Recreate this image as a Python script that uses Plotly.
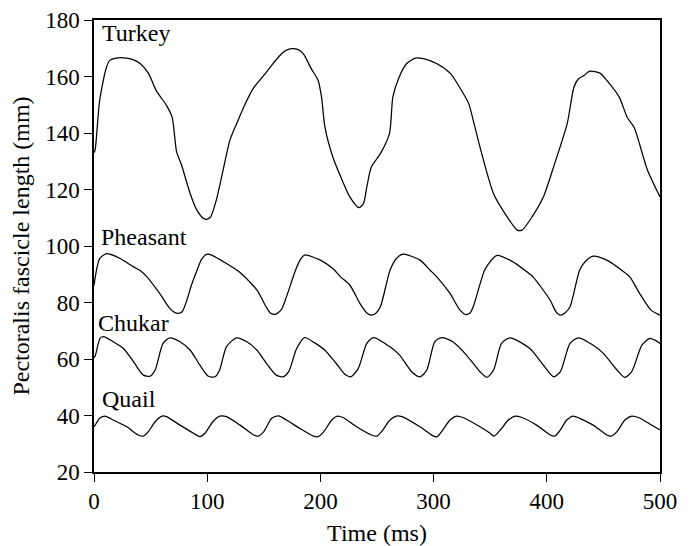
import plotly.graph_objects as go

# ---------------- data ----------------
turkey_t = [0, 1, 5, 11, 14, 21, 29, 35, 41, 48, 55, 64, 69, 73, 77, 85, 91, 97, 100, 103, 108, 114, 120, 126, 135,
            141, 150, 158, 167, 173, 180, 185, 192, 198, 201, 204, 211, 219, 226, 234, 238, 241, 245, 253, 261, 264,
            269, 276, 284, 291, 303, 315, 322, 331, 335, 341, 353, 365, 374, 378, 387, 397, 406, 418, 424, 428, 433,
            438, 447, 453, 464, 471, 477, 489, 500]
turkey_y = [133, 134, 151.5, 163.3, 165.7, 166.6, 166.5, 165.9, 164.5, 161.2, 155, 149.8, 145.6, 133.3, 129.1, 118.5,
            112.6, 109.7, 109.5, 110.3, 116.2, 126.8, 137.4, 143.3, 151.5, 156, 160.4, 164.5, 168.6, 169.8, 169.6, 168,
            162.7, 158.6, 152.7, 142.1, 131.5, 123.5, 117.4, 113.6, 115, 120.9, 128, 132.7, 139.8, 152.7, 159.2, 164.5,
            166.5, 166.3, 164.5, 161, 156.8, 150.4, 144.5, 135, 118.5, 110.3, 105.6, 105.6, 110.3, 117.4, 128, 143.3,
            156.3, 159.2, 160.4, 161.9, 161.2, 158.6, 152.7, 145.6, 142.1, 126.8, 117.4]

pheasant_t = [0, 5, 11, 14, 23, 35, 41, 47, 58, 67, 72, 75, 78, 82, 86, 91, 95, 100, 104, 117, 129, 144, 152, 156,
              160, 163, 166, 170, 178, 182, 186, 200, 211, 218, 226, 235, 241, 245, 249, 253, 261.5, 267, 273, 288,
              297, 303, 314.5, 323, 328, 332, 335, 345, 350, 356, 367.5, 382, 388, 403, 408, 412, 416, 420.5, 429,
              434, 441, 453, 467.6, 473.5, 482, 492, 497, 500]
pheasant_y = [86, 95.5, 97.3, 97.1, 95.6, 92.6, 91.2, 89, 83.2, 77.9, 76.3, 76.2, 76.8, 80.8, 86, 91.4, 95.3, 97.1,
              96.8, 93.8, 90.6, 84.4, 78.5, 76.2, 75.8, 76.5, 77.8, 82, 91.4, 95, 96.8, 95, 92, 89, 86.2, 79.6, 76.3,
              75.5, 76.2, 78.5, 91.4, 95.5, 97.1, 95, 91.4, 89, 83.2, 77.5, 75.8, 76.2, 78.5, 91.4, 94.5, 96.7, 95, 91,
              89, 80.8, 76.8, 75.5, 76.3, 78.5, 91.4, 94.5, 96.4, 95, 91, 89, 83.2, 77.3, 76.1, 75.5]

chukar_t = [0, 1, 5.3, 8.2, 17, 26, 35, 43.6, 49.5, 54, 61, 67, 76, 85, 93.6, 101, 107, 111, 117, 126, 135, 144,
            152.5, 161, 167, 172, 179, 186, 195, 204, 214, 222, 227, 233.5, 241, 247, 261.5, 270, 280.6, 288, 294,
            301, 307, 317, 329, 341, 347, 353, 360, 367.5, 385, 397, 406, 412, 420.5, 428, 441, 450, 462, 469, 475,
            484, 491, 495.5, 500]
chukar_y = [60.5, 61, 67.3, 67.9, 66.1, 63.7, 59, 54.3, 53.9, 56.1, 65.5, 67.5, 66.1, 63.1, 57.8, 53.9, 53.7, 56.1,
            64.3, 67.5, 66.1, 63.1, 58.4, 54.3, 53.7, 55.5, 63.7, 67.6, 65.7, 63.1, 58.4, 54.5, 53.7, 56.7, 65.5,
            67.6, 64.3, 61.4, 55.5, 53.7, 56.1, 66.1, 67.6, 66.1, 61.4, 55.5, 53.5, 56.1, 65.5, 67.5, 63.7, 57.8,
            53.7, 55.5, 65.5, 67.5, 64.9, 62, 56.1, 53.5, 55.5, 64.9, 67.3, 66.7, 65.5]

quail_t = [0, 1, 5, 9.7, 17, 29, 39, 43.6, 48, 54, 60, 64, 76, 88, 93.6, 98, 105, 111, 117, 129, 141, 145, 150, 157,
           163, 170, 182, 194, 198, 203, 210, 215, 220, 232, 245, 250, 254, 261.5, 267, 272, 288, 300, 303, 307,
           314.5, 320, 326, 341, 350, 353.4, 359, 366, 372, 378, 391, 403, 407, 412, 417.6, 423.4, 429, 441, 453,
           457, 462, 469, 475, 481, 491, 500]
quail_y = [36, 36.6, 39, 39.8, 38.4, 36, 33.1, 32.7, 34.3, 37.8, 39.8, 39.6, 36.6, 33.7, 32.5, 33.7, 37.8, 39.8, 39.6,
           36.6, 33.1, 32.7, 34.3, 39, 39.9, 38.4, 35.4, 32.7, 32.5, 34.3, 38.4, 39.8, 39.3, 36, 33.1, 32.7, 34.3,
           38.4, 39.8, 39.6, 36, 32.7, 32.5, 34.3, 38.4, 39.8, 39.3, 36, 33.7, 32.7, 34.9, 38.4, 39.8, 39.3, 36.6,
           33.1, 32.7, 34.9, 38.4, 39.8, 39, 36.6, 33.1, 32.7, 34.3, 38.4, 39.8, 39.3, 37, 34.9]

species = ["Turkey", "Pheasant", "Chukar", "Quail"]
x_ticks = [0, 100, 200, 300, 400, 500]
y_ticks = [20, 40, 60, 80, 100, 120, 140, 160, 180]

FONT = "Liberation Serif"
FS = 24

fig = go.Figure()
for name, t, y in [("Turkey", turkey_t, turkey_y), ("Pheasant", pheasant_t, pheasant_y),
                   ("Chukar", chukar_t, chukar_y), ("Quail", quail_t, quail_y)]:
    fig.add_trace(go.Scatter(x=t, y=y, mode="lines", name=name,
                             line=dict(color="black", width=1.25, shape="spline", smoothing=0.7),
                             showlegend=False, hoverinfo="skip"))

label_pos = {"Turkey": (5.5, 175.3), "Pheasant": (4.0, 103.3), "Chukar": (2.0, 72.9), "Quail": (5.5, 45.8)}
for s in species:
    lx, ly = label_pos[s]
    fig.add_annotation(x=lx, y=ly, xref="x", yref="y", text=s, showarrow=False,
                       xanchor="left", yanchor="middle", font=dict(family=FONT, size=FS, color="black"))

axis_common = dict(showline=True, linecolor="black", linewidth=1.5, mirror=True, ticks="outside",
                   ticklen=8, tickwidth=1, tickcolor="black", showgrid=False, zeroline=False,
                   automargin=False, tickfont=dict(family=FONT, size=FS - 1, color="black"))

fig.update_xaxes(range=[0, 500], tickvals=x_ticks, ticktext=[str(v) for v in x_ticks],
                 title=dict(text="Time (ms)", font=dict(family=FONT, size=FS, color="black"), standoff=14),
                 **axis_common)
fig.update_yaxes(range=[20, 180], tickvals=y_ticks, ticktext=[str(v) for v in y_ticks],
                 title=dict(text="Pectoralis fascicle length (mm)", font=dict(family=FONT, size=FS, color="black"),
                            standoff=9),
                 **axis_common)

fig.update_layout(width=691, height=546, margin=dict(l=94, r=31, t=20, b=74),
                  plot_bgcolor="white", paper_bgcolor="white",
                  font=dict(family=FONT, size=FS, color="black"))

fig.write_html("out.html", config={"displayModeBar": False},
               post_script="document.body.style.margin='0';")
